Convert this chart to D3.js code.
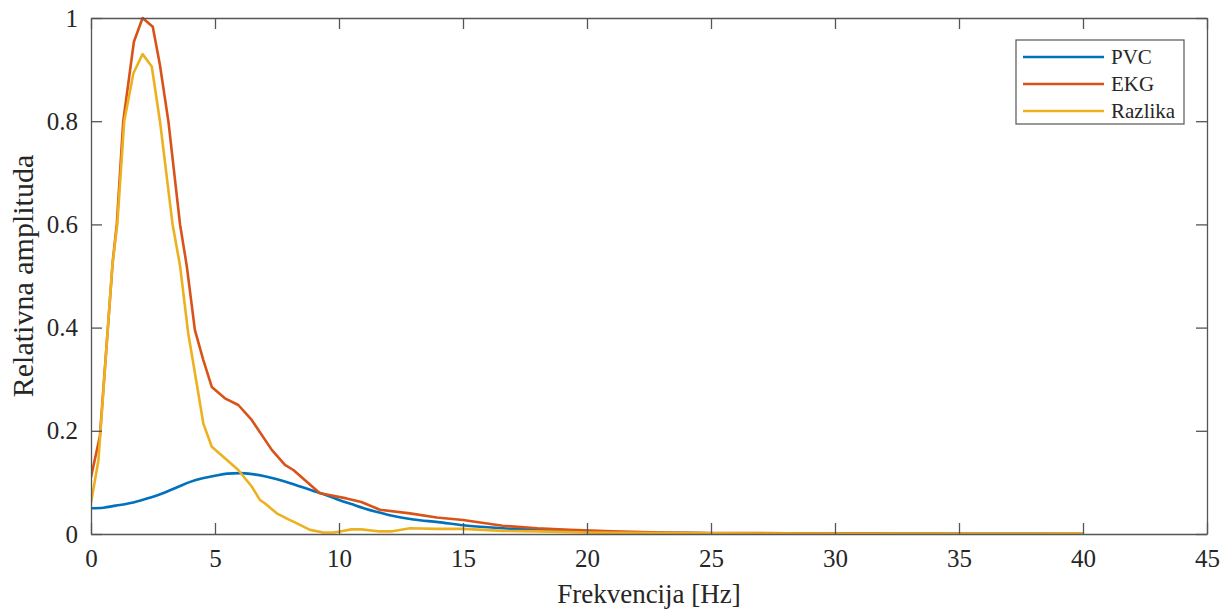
<!DOCTYPE html>
<html><head><meta charset="utf-8">
<script src="https://cdn.jsdelivr.net/npm/d3@7"></script>
<style>body{margin:0;background:#fff}svg{display:block}text{font-family:'Liberation Serif','Times New Roman',serif}</style>
</head><body>
<svg id="chart" width="1228" height="614"></svg>
<script>
const seriesNames = ["PVC", "EKG", "Razlika"];
const seriesColors = ["#0072BD", "#D95319", "#EDB120"];

const pvcFreq = [0,0.5,1,1.5,2,2.5,3,3.5,4,4.5,5,5.5,6,6.5,7,7.5,8,8.5,9,9.5,10,10.5,11,11.5,12,12.5,13,14,15,16,17,18,19,20,22,25,30,35,40];
const pvcVals = [0.05,0.051,0.055,0.059,0.065,0.072,0.081,0.091,0.101,0.108,0.113,0.117,0.118,0.116,0.112,0.106,0.099,0.091,0.083,0.075,0.066,0.058,0.05,0.043,0.037,0.032,0.028,0.023,0.017,0.013,0.01,0.008,0.006,0.004,0.0025,0.0015,0.0007,0.0003,0.0001];

const ekgFreq = [0,0.36,0.88,1.04,1.3,1.73,2.08,2.49,2.78,3.12,3.59,3.86,4.19,4.53,4.87,5.4,5.94,6.48,7.29,7.82,8.16,9.23,10.3,10.9,11.65,12.86,13.94,15,16.6,18,19.3,21,23,25,28,32,36,40];
const ekgVals = [0.11,0.19,0.53,0.6,0.8,0.954,1.0,0.983,0.909,0.8,0.6,0.52,0.395,0.337,0.285,0.263,0.25,0.221,0.163,0.134,0.124,0.079,0.069,0.062,0.047,0.04,0.032,0.027,0.016,0.011,0.008,0.005,0.003,0.002,0.0015,0.001,0.0005,0.0003];

const razFreq = [0,0.3,0.86,1.06,1.34,1.71,2.08,2.45,2.78,3.29,3.59,3.92,4.26,4.53,4.87,5.4,5.94,6.48,6.81,7.02,7.49,8.02,8.16,8.83,9.37,9.77,10.04,10.5,10.9,11.65,12.1,12.86,13.94,15,16.6,18,20,23,27,32,40];
const razVals = [0.06,0.143,0.52,0.6,0.8,0.893,0.93,0.906,0.8,0.6,0.52,0.389,0.292,0.214,0.169,0.147,0.124,0.092,0.066,0.059,0.04,0.027,0.024,0.008,0.003,0.003,0.005,0.009,0.009,0.005,0.005,0.011,0.01,0.01,0.006,0.005,0.003,0.002,0.001,0.0005,0.0002];

const xTicks = [0,5,10,15,20,25,30,35,40,45];
const yTicks = [0,0.2,0.4,0.6,0.8,1];
const yTickLabels = ["0","0.2","0.4","0.6","0.8","1"];
const xLabel = "Frekvencija [Hz]";
const yLabel = "Relativna amplituda";

const svg = d3.select("#chart");
const L = 91, R = 1207, T = 18, B = 534;
const x = d3.scaleLinear().domain([0,45]).range([L,R]);
const y = d3.scaleLinear().domain([0,1]).range([B,T]);
const font = "'Liberation Serif','Times New Roman',serif";
const axisColor = "#555";

const series = [
  {name: seriesNames[0], color: seriesColors[0], f: pvcFreq, v: pvcVals, curve: d3.curveMonotoneX},
  {name: seriesNames[1], color: seriesColors[1], f: ekgFreq, v: ekgVals, curve: d3.curveLinear},
  {name: seriesNames[2], color: seriesColors[2], f: razFreq, v: razVals, curve: d3.curveLinear}
];

const clipId = "plotclip";
svg.append("clipPath").attr("id", clipId).append("rect")
  .attr("x", L).attr("y", T - 2).attr("width", R - L).attr("height", B - T + 2);

series.forEach(s => {
  const line = d3.line().x(d => x(d[0])).y(d => y(d[1])).curve(s.curve);
  svg.append("path")
    .datum(s.f.map((f,i) => [f, s.v[i]]))
    .attr("fill","none").attr("stroke", s.color).attr("stroke-width", 2.6)
    .attr("stroke-linejoin","round")
    .attr("clip-path", `url(#${clipId})`)
    .attr("d", line);
});

// axes (box with inward ticks)
const tickLen = 11;
const gBottom = svg.append("g").attr("transform", `translate(0,${B})`)
  .call(d3.axisBottom(x).tickValues(xTicks).tickSizeInner(-tickLen).tickSizeOuter(0).tickPadding(24).tickFormat(d3.format("d")));
const gTop = svg.append("g").attr("transform", `translate(0,${T})`)
  .call(d3.axisTop(x).tickValues(xTicks).tickSizeInner(-tickLen).tickSizeOuter(0).tickFormat(""));
const gLeft = svg.append("g").attr("transform", `translate(${L},0)`)
  .call(d3.axisLeft(y).tickValues(yTicks).tickSizeInner(-tickLen).tickSizeOuter(0).tickPadding(24).tickFormat((d,i) => yTickLabels[i]));
const gRight = svg.append("g").attr("transform", `translate(${R},0)`)
  .call(d3.axisRight(y).tickValues(yTicks).tickSizeInner(-tickLen).tickSizeOuter(0).tickFormat(""));

[gBottom,gTop,gLeft,gRight].forEach(g => {
  g.attr("font-family", font).attr("font-size", 25);
  g.selectAll("path.domain").attr("stroke", axisColor).attr("stroke-width", 1.3);
  g.selectAll(".tick line").attr("stroke", axisColor).attr("stroke-width", 1.3);
  g.selectAll(".tick text").attr("fill", "#262626").attr("font-family", font).attr("font-size", 25);
});
gLeft.selectAll(".tick text").attr("x", -13);
gBottom.selectAll(".tick text").attr("y", 15);

// axis labels
svg.append("text").attr("x", (L+R)/2).attr("y", 603).attr("text-anchor","middle")
  .attr("font-family", font).attr("font-size", 27).attr("fill","#262626").text(xLabel);
svg.append("text").attr("transform", `translate(33,${(T+B)/2}) rotate(-90)`).attr("text-anchor","middle")
  .attr("font-family", font).attr("font-size", 30).attr("fill","#262626").text(yLabel);

// legend
const lg = svg.append("g");
lg.append("rect").attr("x", 1016).attr("y", 40).attr("width", 168).attr("height", 84)
  .attr("fill","#fff").attr("stroke", axisColor).attr("stroke-width", 1.2);
series.forEach((s,i) => {
  const yy = 57 + i*27;
  lg.append("line").attr("x1", 1023).attr("x2", 1104).attr("y1", yy).attr("y2", yy)
    .attr("stroke", s.color).attr("stroke-width", 2.6);
  lg.append("text").attr("x", 1111).attr("y", yy + 7)
    .attr("font-family", font).attr("font-size", 21).attr("fill","#262626").text(s.name);
});
</script>
</body></html>
